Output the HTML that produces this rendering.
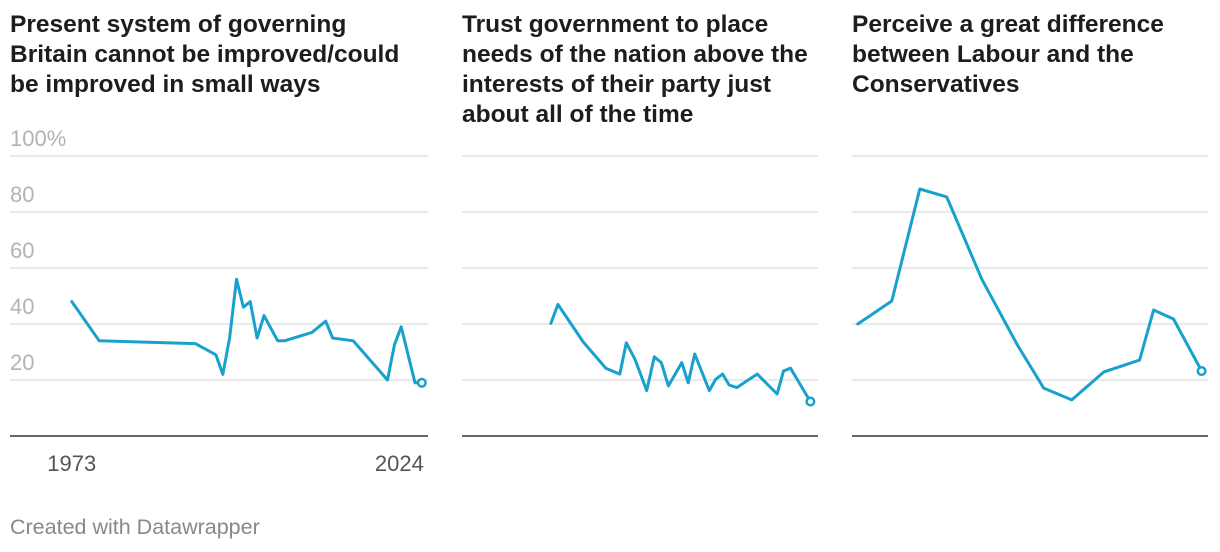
<!DOCTYPE html>
<html><head><meta charset="utf-8">
<style>
body{margin:0;background:#fff;width:1220px;height:552px;overflow:hidden;font-family:"Liberation Sans",Arial,sans-serif;}
.t{position:absolute;top:10px;font-weight:bold;font-size:24.5px;line-height:30px;color:#1d1d1d;white-space:nowrap}
#foot{position:absolute;left:10px;top:515px;font-size:21.5px;color:#888}
svg{position:absolute;left:0;top:0}
</style></head><body>
<div class="t" style="left:10px">Present system of governing<br>Britain cannot be improved/could<br>be improved in small ways</div>
<div class="t" style="left:462px">Trust government to place<br>needs of the nation above the<br>interests of their party just<br>about all of the time</div>
<div class="t" style="left:852px">Perceive a great difference<br>between Labour and the<br>Conservatives</div>
<svg id="c" width="1220" height="552"></svg>
<div id="foot">Created with Datawrapper</div>
<script>
const yTicks=[100,80,60,40,20];
const yTickLabels=["100%","80","60","40","20"];
const xTickYears=[1973,2024];
const years1=[1973,1977,1991,1994,1995,1996,1997,1998,1999,2000,2001,2003,2004,2008,2010,2011,2014,2019,2020,2021,2023,2024];
const vals1=[48,34,33,29,22,35,56,46,48,35,43,34,34,37,41,35,34,20,32.5,39,19,19];
const years2=[1979.2,1980.4,1984.7,1988.6,1991,1992.1,1993.6,1995.6,1996.9,1998.1,1999.3,2001.6,2002.7,2003.8,2006.3,2007.4,2008.6,2009.7,2011,2014.5,2017.9,2019,2020.2,2023.6];
const vals2=[40.2,47,33.7,24.2,22.1,33.3,27.4,16.2,28.3,26.2,17.9,26.2,19,29.3,16.2,20.3,22.1,18.2,17.3,22.1,15,23.2,24.2,12.3];
const years3=[1965,1970.8,1975.6,1980.2,1986.2,1992.3,1996.8,2001.6,2007.1,2013.2,2015.6,2019,2023.8];
const vals3=[40,48.2,88.2,85.4,56,32.5,17.1,12.9,22.9,27.1,45,41.8,23.2];

const NS="http://www.w3.org/2000/svg",svg=document.getElementById('c');
const Y0=1964,Y1=2024.9;
const y=v=>436-v*2.8;
function mk(tag,attrs,parent){const e=document.createElementNS(NS,tag);for(const k in attrs)e.setAttribute(k,attrs[k]);(parent||svg).appendChild(e);return e;}
const panels=[{l:10,w:418,ys:years1,vs:vals1,n:1},{l:462,w:356,ys:years2,vs:vals2,n:2},{l:852,w:356,ys:years3,vs:vals3,n:3}];
panels.forEach(p=>{
  const x=yr=>p.l+(yr-Y0)/(Y1-Y0)*p.w;
  const g=mk('g',{});
  
  
  yTicks.forEach((t,i)=>{
    const ln=mk('line',{x1:p.l,x2:p.l+p.w,y1:y(t),y2:y(t),stroke:'#e2e2e2','stroke-width':1.5},g);
    
    
    if(p.n===1){
      const tx=mk('text',{x:10,y:y(t)-10,fill:'#b3b3b3','font-size':22},g);
      tx.textContent=yTickLabels[i];
      
      
    }
  });
  const base=mk('line',{x1:p.l,x2:p.l+p.w,y1:436,y2:436,stroke:'#333','stroke-width':1.5},g);
  
  
  if(p.n===1){
    xTickYears.forEach((yr,i)=>{
      const tx=mk('text',{x:i===0?x(yr):x(yr)+2,y:471,fill:'#555','font-size':22,'text-anchor':i===0?'middle':'end'},g);
      tx.textContent=yr;
      
      
    });
  }
  const pts=p.ys.map((yr,i)=>x(yr).toFixed(1)+','+y(p.vs[i]).toFixed(1)).join(' ');
  const pl=mk('polyline',{points:pts,fill:'none',stroke:'#18a1cd','stroke-width':3,'stroke-linejoin':'round','stroke-linecap':'round'},g);
  
  
  const li=p.ys.length-1;
  const c=mk('circle',{cx:x(p.ys[li]),cy:y(p.vs[li]),r:3.8,fill:'#fff',stroke:'#18a1cd','stroke-width':2.5},g);
  
  
});
</script>
</body></html>
